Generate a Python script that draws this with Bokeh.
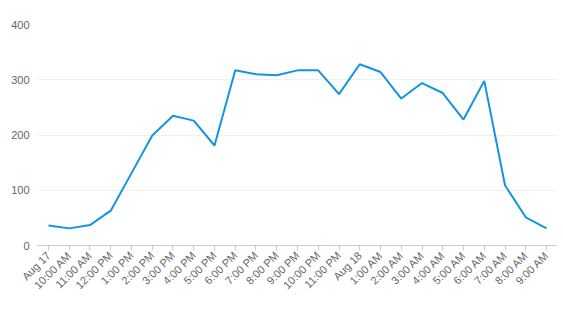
import math
from bokeh.plotting import figure
from bokeh.models import FixedTicker, ColumnDataSource
from bokeh.embed import file_html
from bokeh.resources import INLINE

labels = ["Aug 17", "10:00 AM", "11:00 AM", "12:00 PM", "1:00 PM", "2:00 PM", "3:00 PM",
          "4:00 PM", "5:00 PM", "6:00 PM", "7:00 PM", "8:00 PM", "9:00 PM", "10:00 PM",
          "11:00 PM", "Aug 18", "1:00 AM", "2:00 AM", "3:00 AM", "4:00 AM", "5:00 AM",
          "6:00 AM", "7:00 AM", "8:00 AM", "9:00 AM"]
values = [36, 31, 37, 63, 131, 199, 235, 226, 181, 317, 310, 308, 317, 317, 274,
          328, 314, 266, 294, 276, 228, 298, 109, 51, 31]
y_ticks = [0, 100, 200, 300, 400]

idx = list(range(len(labels)))
src = ColumnDataSource(dict(x=idx, y=values))

p = figure(width=563, height=310, output_backend="svg", toolbar_location=None,
           x_range=(-0.53, 24.53), y_range=(0, 400),
           min_border_left=37, min_border_right=6, min_border_top=24, min_border_bottom=65)
p.outline_line_color = None
p.background_fill_color = "white"
p.border_fill_color = "white"

p.line("x", "y", source=src, line_color="#1195e3", line_width=2)

p.xaxis.ticker = FixedTicker(ticks=idx)
p.xaxis.major_label_overrides = {i: l for i, l in enumerate(labels)}
p.xaxis.major_label_orientation = math.pi / 4
p.xaxis.axis_line_color = "#cccccc"
p.xaxis.major_tick_line_color = "#cccccc"
p.xaxis.major_tick_in = 0
p.xaxis.major_tick_out = 5
p.xaxis.minor_tick_line_color = None
p.xaxis.major_label_text_font = "Liberation Sans"
p.xaxis.major_label_text_font_size = "11px"
p.xaxis.major_label_text_color = "#666666"
p.xaxis.major_label_standoff = 3

p.yaxis.ticker = FixedTicker(ticks=y_ticks)
p.yaxis.axis_line_color = None
p.yaxis.major_tick_line_color = None
p.yaxis.major_tick_out = 0
p.yaxis.major_tick_in = 0
p.yaxis.minor_tick_line_color = None
p.yaxis.major_label_text_font = "Liberation Sans"
p.yaxis.major_label_text_font_size = "11px"
p.yaxis.major_label_text_color = "#666666"
p.yaxis.major_label_standoff = 8

p.xgrid.grid_line_color = None
p.ygrid.grid_line_color = "#f0f0f0"
p.ygrid.ticker = FixedTicker(ticks=y_ticks)

open("out.html", "w").write(file_html(p, INLINE))
